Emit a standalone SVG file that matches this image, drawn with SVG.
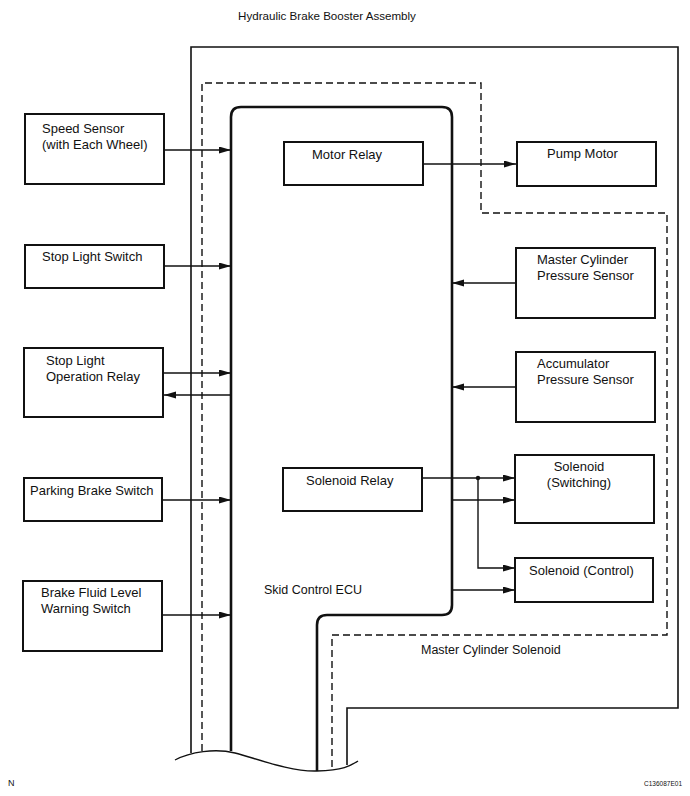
<svg xmlns="http://www.w3.org/2000/svg" width="690" height="796" viewBox="0 0 690 796">
<style>
text{font-family:"Liberation Sans",Arial,sans-serif;font-size:12.5px;fill:#111}
.lbl{font-size:13px}
.box{fill:#fff;stroke:#111;stroke-width:2}
.bound{fill:none;stroke:#111;stroke-width:1.6}
.ecu{fill:none;stroke:#111;stroke-width:2.6}
.dash{fill:none;stroke:#111;stroke-width:1.4;stroke-dasharray:7 4}
.con{fill:none;stroke:#111;stroke-width:1.4}
</style>
<defs>
<marker id="ah" markerUnits="userSpaceOnUse" markerWidth="12" markerHeight="8" refX="12" refY="3.5" orient="auto">
<path d="M0,0 L12,3.5 L0,7 z" fill="#111"/>
</marker>
</defs>
<rect width="690" height="796" fill="#fff"/>
<text x="327" y="20" text-anchor="middle" style="font-size:11.6px">Hydraulic Brake Booster Assembly</text>
<g id="assembly">
<path class="bound" d="M191,753 V47 H678 V708 H347 V765"/>
</g>
<g id="master-cylinder-solenoid">
<path class="dash" d="M202,751 V83 H481 V213 H667 V635 H332 V769"/>
<text x="421" y="654">Master Cylinder Solenoid</text>
</g>
<g id="skid-control-ecu">
<path class="ecu" d="M231,751 V117 Q231,107 241,107 H442 Q452,107 452,117 V605 Q452,615 442,615 H327 Q317,615 317,625 V771"/>
<text x="264" y="594">Skid Control ECU</text>
</g>
<path class="con" d="M175,760 C190,752 215,748 235,753 S290,772 317,771 S350,766 358,761"/>
<g id="speed-sensor">
<rect class="box" x="25" y="114" width="139" height="70"/>
<text class="lbl" x="42" y="133">Speed Sensor</text>
<text class="lbl" x="42" y="149">(with Each Wheel)</text>
</g>
<g id="stop-light-switch">
<rect class="box" x="25" y="245" width="139" height="43"/>
<text class="lbl" x="42" y="261">Stop Light Switch</text>
</g>
<g id="stop-light-operation-relay">
<rect class="box" x="24" y="348" width="139" height="69"/>
<text class="lbl" x="46" y="365">Stop Light</text>
<text class="lbl" x="46" y="381">Operation Relay</text>
</g>
<g id="parking-brake-switch">
<rect class="box" x="24" y="478" width="138" height="43"/>
<text class="lbl" x="30" y="495">Parking Brake Switch</text>
</g>
<g id="brake-fluid-level-warning-switch">
<rect class="box" x="23" y="581" width="139" height="70"/>
<text class="lbl" x="41" y="597">Brake Fluid Level</text>
<text class="lbl" x="41" y="613">Warning Switch</text>
</g>
<g id="motor-relay">
<rect class="box" x="284" y="142" width="139" height="43"/>
<text class="lbl" x="312" y="159">Motor Relay</text>
</g>
<g id="pump-motor">
<rect class="box" x="517" y="142" width="139" height="44"/>
<text class="lbl" x="547" y="158">Pump Motor</text>
</g>
<g id="master-cylinder-pressure-sensor">
<rect class="box" x="516" y="248" width="139" height="70"/>
<text class="lbl" x="537" y="264">Master Cylinder</text>
<text class="lbl" x="537" y="280">Pressure Sensor</text>
</g>
<g id="accumulator-pressure-sensor">
<rect class="box" x="516" y="352" width="139" height="70"/>
<text class="lbl" x="537" y="368">Accumulator</text>
<text class="lbl" x="537" y="384">Pressure Sensor</text>
</g>
<g id="solenoid-relay">
<rect class="box" x="283" y="468" width="139" height="43"/>
<text class="lbl" x="306" y="485">Solenoid Relay</text>
</g>
<g id="solenoid-switching">
<rect class="box" x="515" y="455" width="139" height="68"/>
<text class="lbl" x="579" y="471" text-anchor="middle">Solenoid</text>
<text class="lbl" x="579" y="487" text-anchor="middle">(Switching)</text>
</g>
<g id="solenoid-control">
<rect class="box" x="515" y="558" width="138" height="44"/>
<text class="lbl" x="529" y="575">Solenoid (Control)</text>
</g>
<g id="connectors">
<path class="con" marker-end="url(#ah)" d="M164,150 H231"/>
<path class="con" marker-end="url(#ah)" d="M164,266 H231"/>
<path class="con" marker-end="url(#ah)" d="M163,373 H231"/>
<path class="con" marker-end="url(#ah)" d="M231,395 H164"/>
<path class="con" marker-end="url(#ah)" d="M162,500 H231"/>
<path class="con" marker-end="url(#ah)" d="M162,615 H231"/>
<path class="con" marker-end="url(#ah)" d="M423,164 H516"/>
<path class="con" marker-end="url(#ah)" d="M516,283 H452"/>
<path class="con" marker-end="url(#ah)" d="M516,387 H452"/>
<path class="con" marker-end="url(#ah)" d="M422,478 H515"/>
<path class="con" marker-end="url(#ah)" d="M478,478 V568 H515"/>
<circle cx="478" cy="478" r="2.2" fill="#111"/>
<path class="con" marker-end="url(#ah)" d="M452,500 H515"/>
<path class="con" marker-end="url(#ah)" d="M452,590 H515"/>
</g>
<text x="8" y="786" style="font-size:9px">N</text>
<text x="682" y="786" text-anchor="end" style="font-size:6.5px">C136087E01</text>
</svg>
